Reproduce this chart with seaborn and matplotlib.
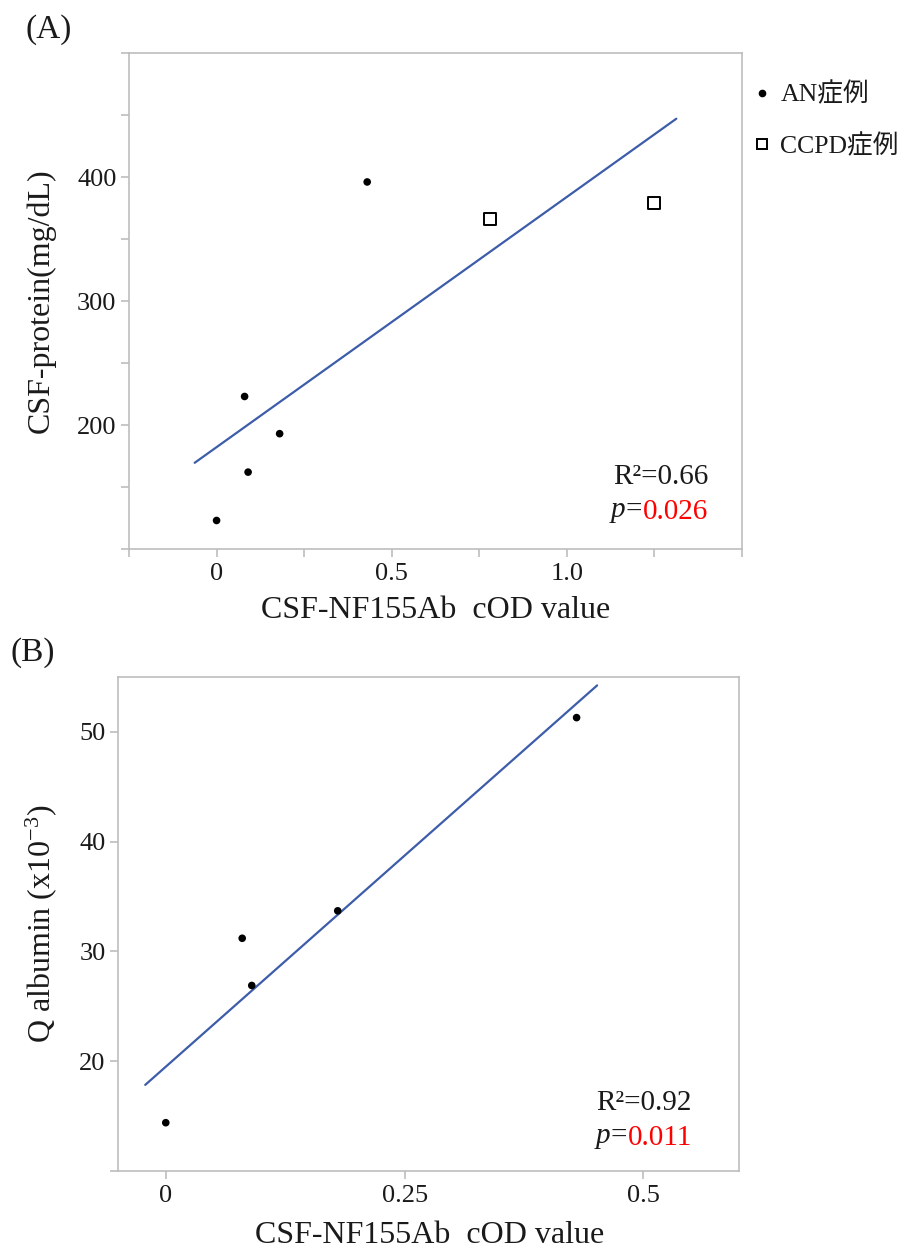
import numpy as np
import pandas as pd
import matplotlib
matplotlib.use("Agg")
import matplotlib.pyplot as plt
import seaborn as sns
from matplotlib.lines import Line2D

# ---------------- data ----------------
an_cod = [0.0, 0.08, 0.09, 0.18, 0.43]
an_protein = [123, 223, 162, 193, 396]
ccpd_cod = [0.78, 1.25]
ccpd_protein = [366, 379]
an_qalb = [14.4, 31.2, 26.9, 33.7, 51.3]

group_labels = ["AN症例", "CCPD症例"]
r2_a, p_a = "0.66", "0.026"
r2_b, p_b = "0.92", "0.011"

xticks_a = [-0.25, 0, 0.25, 0.5, 0.75, 1.0, 1.25, 1.5]
xticklabels_a = ["", "0", "", "0.5", "", "1.0", "", ""]
yticks_a = [100, 150, 200, 250, 300, 350, 400, 450, 500]
yticklabels_a = ["", "", "200", "", "300", "", "400", "", ""]
xticks_b = [0, 0.25, 0.5]
xticklabels_b = ["0", "0.25", "0.5"]
yticks_b = [10, 20, 30, 40, 50]
yticklabels_b = ["", "20", "30", "40", "50"]

xlabel = "CSF-NF155Ab  cOD value"
ylabel_a = "CSF-protein(mg/dL)"
ylabel_b = "Q albumin (x10$^{-3}$)"

# ---------------- style ----------------
sns.set_style("white")
plt.rcParams["font.family"] = ["Liberation Serif", "Noto Sans CJK JP"]
plt.rcParams["mathtext.fontset"] = "custom"
plt.rcParams["mathtext.rm"] = "Liberation Serif"
plt.rcParams["mathtext.it"] = "Liberation Serif:italic"

SPINE = "#BDBDBD"
LINE = "#3D5DAA"
TXT = "#1a1a1a"

fig = plt.figure(figsize=(8.99, 12.5), dpi=100)
W, H = 899, 1250

def axes_px(l, t, r, b):
    return fig.add_axes([l / W, 1 - b / H, (r - l) / W, (b - t) / H])

axA = axes_px(129, 53, 742, 549)
axB = axes_px(118, 677, 739, 1171)

def fit_line(ax, xs, ys):
    xs = np.asarray(xs, float); ys = np.asarray(ys, float)
    k, c = np.polyfit(xs, ys, 1)
    rng = xs.max() - xs.min()
    xl = np.array([xs.min() - 0.05 * rng, xs.max() + 0.05 * rng])
    sns.lineplot(x=xl, y=k * xl + c, ax=ax, color=LINE, linewidth=1.6)

def style_axes(ax, xt, xtl, yt, ytl, xlim, ylim):
    ax.set_xlim(*xlim); ax.set_ylim(*ylim)
    ax.set_xticks(xt); ax.set_xticklabels(xtl)
    ax.set_yticks(yt); ax.set_yticklabels(ytl)
    for s in ax.spines.values():
        s.set_visible(True); s.set_color(SPINE); s.set_linewidth(1.2)
    ax.tick_params(axis="both", direction="out", length=6, width=1.2,
                   bottom=True, left=True, top=False, right=False,
                   color=SPINE, labelcolor=TXT, labelsize=19)
    ax.tick_params(axis="x", pad=4)
    ax.tick_params(axis="y", pad=3)
    ax.grid(False)

# ---------------- panel A ----------------
dfA_an = pd.DataFrame({"x": an_cod, "y": an_protein})
dfA_cc = pd.DataFrame({"x": ccpd_cod, "y": ccpd_protein})
fit_line(axA, an_cod + ccpd_cod, an_protein + ccpd_protein)
sns.scatterplot(data=dfA_an, x="x", y="y", ax=axA, color="black", s=30,
                marker="o", edgecolor="none", zorder=3)
sns.scatterplot(data=dfA_cc, x="x", y="y", ax=axA, facecolor="white", s=68,
                marker="s", edgecolor="black", linewidth=1.4, zorder=3)
style_axes(axA, xticks_a, xticklabels_a, yticks_a, yticklabels_a, (-0.25, 1.5), (100, 500))
axA.set_xlabel(xlabel, fontsize=23, color=TXT)
axA.set_ylabel(ylabel_a, fontsize=23, color=TXT)
axA.xaxis.set_label_coords(0.5, -0.123)
axA.xaxis.label.set_va("center")
axA.yaxis.set_label_coords(-0.1436, 0.5)
axA.yaxis.label.set_va("center")

def stats(ax, x, y1, y2, r2, p):
    ax.text(x, y1, "R²=" + r2, transform=ax.transAxes, ha="right", va="center",
            fontsize=21, color=TXT)
    t = ax.text(x, y2, p, transform=ax.transAxes, ha="right", va="center",
                fontsize=21, color="red")
    ax.annotate("$\\mathit{p}$=", xy=(0, 0.5), xycoords=t, ha="right", va="center",
                fontsize=21, color=TXT)

stats(axA, 0.9445, 0.145, 0.0746, r2_a, p_a)

handles = [
    Line2D([], [], linestyle="none", marker="o", markersize=4.5, color="black"),
    Line2D([], [], linestyle="none", marker="s", markersize=7.5, markerfacecolor="white",
           markeredgecolor="black", markeredgewidth=1.4),
]
fig.legend(handles, group_labels, loc="upper left", bbox_to_anchor=(752 / W, 1 - 82 / H),
           frameon=False, fontsize=18.5, handlelength=0.8, handletextpad=0.3,
           labelspacing=1.05, borderpad=0, borderaxespad=0, labelcolor=TXT)

# ---------------- panel B ----------------
dfB = pd.DataFrame({"x": an_cod, "y": an_qalb})
fit_line(axB, an_cod, an_qalb)
sns.scatterplot(data=dfB, x="x", y="y", ax=axB, color="black", s=30,
                marker="o", edgecolor="none", zorder=3)
style_axes(axB, xticks_b, xticklabels_b, yticks_b, yticklabels_b, (-0.05, 0.6), (10, 55))
axB.set_xlabel(xlabel, fontsize=23, color=TXT)
axB.set_ylabel(ylabel_b, fontsize=23, color=TXT)
axB.xaxis.set_label_coords(0.502, -0.13)
axB.xaxis.label.set_va("center")
axB.yaxis.set_label_coords(-0.124, 0.5)
axB.yaxis.label.set_va("center")
stats(axB, 0.924, 0.1377, 0.0668, r2_b, p_b)

fig.text(49 / W, 1 - 30 / H, "(A)", fontsize=24, ha="center", va="center", color=TXT)
fig.text(33 / W, 1 - 653 / H, "(B)", fontsize=24, ha="center", va="center", color=TXT)

fig.savefig("out.png", dpi=100)
